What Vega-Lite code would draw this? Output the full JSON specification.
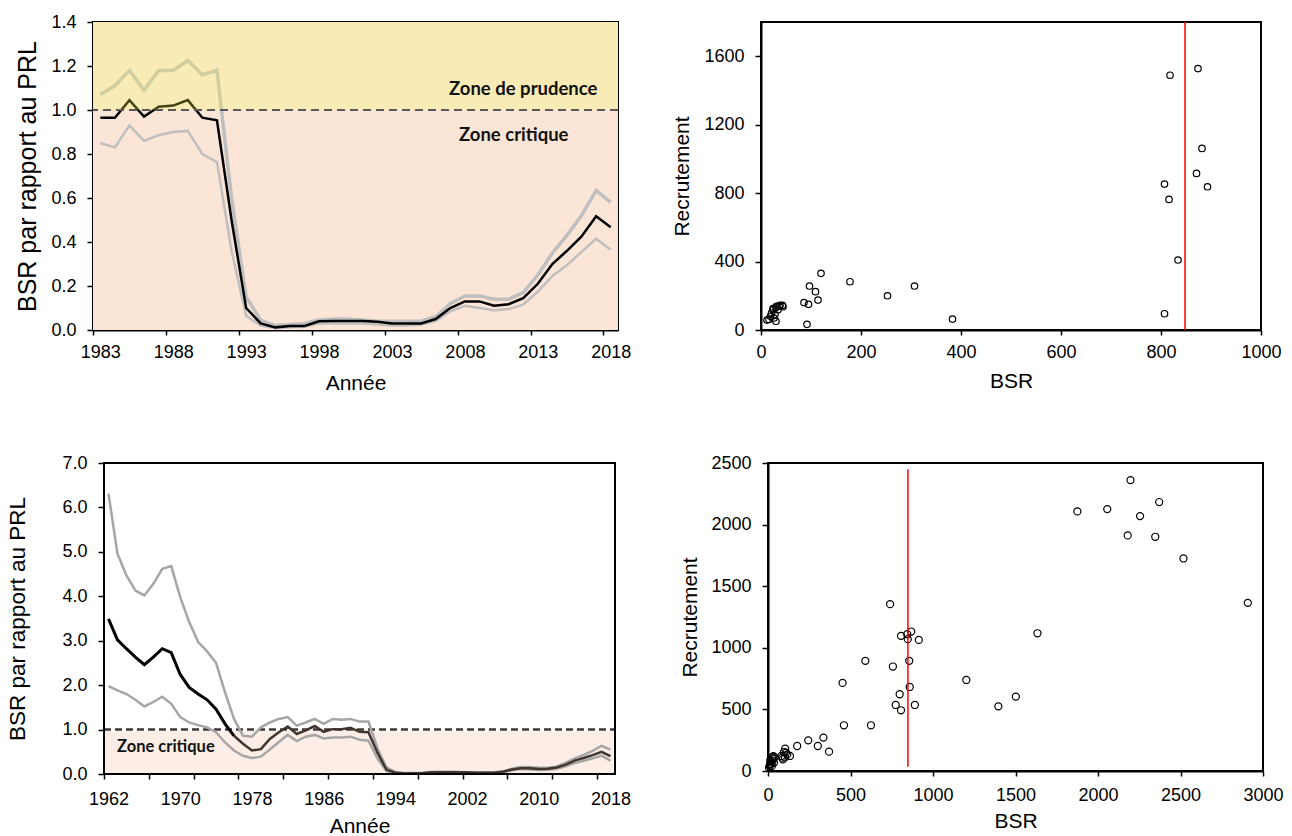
{
  "$schema": "https://vega.github.io/schema/vega-lite/v6.json",
  "background": "white",
  "padding": {"left": 6, "top": 12, "right": 0, "bottom": 0},
  "config": {
    "font": "Liberation Sans",
    "view": {"stroke": "black", "strokeWidth": 2},
    "axis": {
      "grid": false, "domainColor": "black", "domainWidth": 2, "tickColor": "black", "tickWidth": 1.5,
      "labelFontSize": 18, "labelColor": "black", "titleFontSize": 21, "titleFontWeight": "normal",
      "titleColor": "black", "labelFlush": false, "labelOverlap": false
    }
  },
  "datasets": {
    "zonesTL": [
      {"x1": 1982.5, "x2": 2018.5, "y1": 1.0, "y2": 1.4, "zone": "prudence"},
      {"x1": 1982.5, "x2": 2018.5, "y1": 0.0, "y2": 1.0, "zone": "critique"}
    ],
    "zonesBL": [
      {"x1": 1961.5, "x2": 2018.3, "y1": 0.0, "y2": 0.96, "zone": "critique"}
    ],
    "frameBL": [{"x1": 1961.5, "x2": 2018.5, "y1": 0, "y2": 7}],
    "ref": [{"ref": 1.0}],
    "refBL": [{"ref": 1.0, "x1": 1961.5, "x2": 2018.5}],
    "blim": [{"blim": 848}],
    "blimBR": [{"blim": 848, "r1": 35, "r2": 2450}],
    "textTL": [
      {"x": 2012.0, "y": 1.095, "label": "Zone de prudence"},
      {"x": 2011.35, "y": 0.885, "label": "Zone critique"}
    ],
    "textBL": [
      {"x": 1968.4, "y": 0.6, "label": "Zone critique"}
    ],
    "tl": [
      {"year": 1983, "haut": 1.07, "med": 0.965, "bas": 0.85},
      {"year": 1984, "haut": 1.11, "med": 0.965, "bas": 0.83},
      {"year": 1985, "haut": 1.18, "med": 1.045, "bas": 0.93},
      {"year": 1986, "haut": 1.09, "med": 0.97, "bas": 0.86},
      {"year": 1987, "haut": 1.18, "med": 1.015, "bas": 0.885},
      {"year": 1988, "haut": 1.18, "med": 1.02, "bas": 0.9},
      {"year": 1989, "haut": 1.225, "med": 1.045, "bas": 0.905},
      {"year": 1990, "haut": 1.16, "med": 0.965, "bas": 0.8},
      {"year": 1991, "haut": 1.18, "med": 0.953, "bas": 0.763},
      {"year": 1992, "haut": 0.6, "med": 0.5, "bas": 0.36},
      {"year": 1993, "haut": 0.15, "med": 0.1, "bas": 0.065},
      {"year": 1994, "haut": 0.045, "med": 0.03, "bas": 0.02},
      {"year": 1995, "haut": 0.02, "med": 0.012, "bas": 0.008},
      {"year": 1996, "haut": 0.025, "med": 0.018, "bas": 0.012},
      {"year": 1997, "haut": 0.03, "med": 0.018, "bas": 0.015},
      {"year": 1998, "haut": 0.045, "med": 0.04, "bas": 0.03},
      {"year": 1999, "haut": 0.05, "med": 0.041, "bas": 0.03},
      {"year": 2000, "haut": 0.05, "med": 0.041, "bas": 0.03},
      {"year": 2001, "haut": 0.045, "med": 0.041, "bas": 0.03},
      {"year": 2002, "haut": 0.04, "med": 0.038, "bas": 0.025},
      {"year": 2003, "haut": 0.04, "med": 0.03, "bas": 0.02},
      {"year": 2004, "haut": 0.04, "med": 0.03, "bas": 0.02},
      {"year": 2005, "haut": 0.04, "med": 0.03, "bas": 0.025},
      {"year": 2006, "haut": 0.06, "med": 0.05, "bas": 0.04},
      {"year": 2007, "haut": 0.12, "med": 0.1, "bas": 0.085},
      {"year": 2008, "haut": 0.155, "med": 0.13, "bas": 0.11},
      {"year": 2009, "haut": 0.155, "med": 0.13, "bas": 0.1},
      {"year": 2010, "haut": 0.14, "med": 0.11, "bas": 0.09},
      {"year": 2011, "haut": 0.14, "med": 0.117, "bas": 0.095},
      {"year": 2012, "haut": 0.17, "med": 0.145, "bas": 0.115},
      {"year": 2013, "haut": 0.25, "med": 0.21, "bas": 0.175},
      {"year": 2014, "haut": 0.35, "med": 0.3, "bas": 0.245},
      {"year": 2015, "haut": 0.43, "med": 0.36, "bas": 0.295},
      {"year": 2016, "haut": 0.52, "med": 0.425, "bas": 0.355},
      {"year": 2017, "haut": 0.635, "med": 0.517, "bas": 0.415},
      {"year": 2018, "haut": 0.58, "med": 0.467, "bas": 0.365}
    ],
    "bl": [
      {"year": 1962, "haut": 6.31, "med": 3.49, "bas": 1.98},
      {"year": 1963, "haut": 4.96, "med": 3.02, "bas": 1.88},
      {"year": 1964, "haut": 4.47, "med": 2.82, "bas": 1.8},
      {"year": 1965, "haut": 4.13, "med": 2.63, "bas": 1.67},
      {"year": 1966, "haut": 4.02, "med": 2.46, "bas": 1.52},
      {"year": 1967, "haut": 4.28, "med": 2.63, "bas": 1.62},
      {"year": 1968, "haut": 4.62, "med": 2.82, "bas": 1.74},
      {"year": 1969, "haut": 4.68, "med": 2.73, "bas": 1.58},
      {"year": 1970, "haut": 3.98, "med": 2.24, "bas": 1.28},
      {"year": 1971, "haut": 3.42, "med": 1.95, "bas": 1.16},
      {"year": 1972, "haut": 2.97, "med": 1.8, "bas": 1.1},
      {"year": 1973, "haut": 2.76, "med": 1.67, "bas": 1.05},
      {"year": 1974, "haut": 2.5, "med": 1.46, "bas": 0.94},
      {"year": 1975, "haut": 1.84, "med": 1.13, "bas": 0.71},
      {"year": 1976, "haut": 1.24, "med": 0.86, "bas": 0.53},
      {"year": 1977, "haut": 0.86, "med": 0.68, "bas": 0.41},
      {"year": 1978, "haut": 0.84, "med": 0.53, "bas": 0.36},
      {"year": 1979, "haut": 1.05, "med": 0.56, "bas": 0.39},
      {"year": 1980, "haut": 1.16, "med": 0.79, "bas": 0.55},
      {"year": 1981, "haut": 1.24, "med": 0.94, "bas": 0.72},
      {"year": 1982, "haut": 1.28, "med": 1.07, "bas": 0.88},
      {"year": 1983, "haut": 1.09, "med": 0.9, "bas": 0.74},
      {"year": 1984, "haut": 1.16, "med": 0.98, "bas": 0.84},
      {"year": 1985, "haut": 1.24, "med": 1.08, "bas": 0.88},
      {"year": 1986, "haut": 1.13, "med": 0.95, "bas": 0.8},
      {"year": 1987, "haut": 1.24, "med": 1.01, "bas": 0.82},
      {"year": 1988, "haut": 1.22, "med": 1.01, "bas": 0.82},
      {"year": 1989, "haut": 1.24, "med": 1.04, "bas": 0.84},
      {"year": 1990, "haut": 1.18, "med": 0.95, "bas": 0.77},
      {"year": 1991, "haut": 1.18, "med": 0.94, "bas": 0.75},
      {"year": 1992, "haut": 0.58, "med": 0.48, "bas": 0.35},
      {"year": 1993, "haut": 0.15, "med": 0.1, "bas": 0.065},
      {"year": 1994, "haut": 0.045, "med": 0.03, "bas": 0.02},
      {"year": 1995, "haut": 0.02, "med": 0.012, "bas": 0.008},
      {"year": 1996, "haut": 0.025, "med": 0.018, "bas": 0.012},
      {"year": 1997, "haut": 0.03, "med": 0.018, "bas": 0.015},
      {"year": 1998, "haut": 0.045, "med": 0.04, "bas": 0.03},
      {"year": 1999, "haut": 0.05, "med": 0.041, "bas": 0.03},
      {"year": 2000, "haut": 0.05, "med": 0.041, "bas": 0.03},
      {"year": 2001, "haut": 0.045, "med": 0.041, "bas": 0.03},
      {"year": 2002, "haut": 0.04, "med": 0.038, "bas": 0.025},
      {"year": 2003, "haut": 0.04, "med": 0.03, "bas": 0.02},
      {"year": 2004, "haut": 0.04, "med": 0.03, "bas": 0.02},
      {"year": 2005, "haut": 0.04, "med": 0.03, "bas": 0.025},
      {"year": 2006, "haut": 0.06, "med": 0.05, "bas": 0.04},
      {"year": 2007, "haut": 0.12, "med": 0.1, "bas": 0.085},
      {"year": 2008, "haut": 0.155, "med": 0.13, "bas": 0.11},
      {"year": 2009, "haut": 0.155, "med": 0.13, "bas": 0.1},
      {"year": 2010, "haut": 0.14, "med": 0.11, "bas": 0.09},
      {"year": 2011, "haut": 0.14, "med": 0.117, "bas": 0.095},
      {"year": 2012, "haut": 0.17, "med": 0.145, "bas": 0.115},
      {"year": 2013, "haut": 0.25, "med": 0.21, "bas": 0.175},
      {"year": 2014, "haut": 0.35, "med": 0.3, "bas": 0.245},
      {"year": 2015, "haut": 0.43, "med": 0.36, "bas": 0.295},
      {"year": 2016, "haut": 0.52, "med": 0.425, "bas": 0.355},
      {"year": 2017, "haut": 0.635, "med": 0.5, "bas": 0.415},
      {"year": 2018, "haut": 0.55, "med": 0.4, "bas": 0.3}
    ],
    "tr": [
      {"bsr": 818, "rec": 1489}, {"bsr": 874, "rec": 1528}, {"bsr": 882, "rec": 1061}, {"bsr": 871, "rec": 915},
      {"bsr": 893, "rec": 837}, {"bsr": 807, "rec": 853}, {"bsr": 816, "rec": 763}, {"bsr": 834, "rec": 409},
      {"bsr": 807, "rec": 95}, {"bsr": 383, "rec": 64}, {"bsr": 307, "rec": 257}, {"bsr": 253, "rec": 200},
      {"bsr": 178, "rec": 282}, {"bsr": 120, "rec": 331}, {"bsr": 97, "rec": 257}, {"bsr": 109, "rec": 224},
      {"bsr": 114, "rec": 175}, {"bsr": 86, "rec": 160}, {"bsr": 95, "rec": 150}, {"bsr": 92, "rec": 33},
      {"bsr": 12, "rec": 58}, {"bsr": 16, "rec": 62}, {"bsr": 19, "rec": 80}, {"bsr": 21, "rec": 99},
      {"bsr": 24, "rec": 118}, {"bsr": 24, "rec": 125}, {"bsr": 26, "rec": 70}, {"bsr": 28, "rec": 90},
      {"bsr": 30, "rec": 51}, {"bsr": 30, "rec": 132}, {"bsr": 31, "rec": 139}, {"bsr": 34, "rec": 119},
      {"bsr": 36, "rec": 140}, {"bsr": 38, "rec": 144}, {"bsr": 43, "rec": 144}, {"bsr": 44, "rec": 136}
    ],
    "br": [
      {"bsr": 2197, "rec": 2361}, {"bsr": 2371, "rec": 2183}, {"bsr": 1875, "rec": 2107}, {"bsr": 2056, "rec": 2126},
      {"bsr": 2255, "rec": 2069}, {"bsr": 2180, "rec": 1912}, {"bsr": 2347, "rec": 1901}, {"bsr": 2518, "rec": 1725},
      {"bsr": 2908, "rec": 1365}, {"bsr": 1633, "rec": 1118}, {"bsr": 740, "rec": 1354}, {"bsr": 806, "rec": 1097},
      {"bsr": 844, "rec": 1110}, {"bsr": 868, "rec": 1132}, {"bsr": 847, "rec": 1070}, {"bsr": 914, "rec": 1064},
      {"bsr": 590, "rec": 894}, {"bsr": 856, "rec": 894}, {"bsr": 757, "rec": 848}, {"bsr": 452, "rec": 715},
      {"bsr": 1202, "rec": 739}, {"bsr": 859, "rec": 682}, {"bsr": 798, "rec": 623}, {"bsr": 774, "rec": 536},
      {"bsr": 890, "rec": 536}, {"bsr": 806, "rec": 493}, {"bsr": 1396, "rec": 525}, {"bsr": 1502, "rec": 604},
      {"bsr": 460, "rec": 371}, {"bsr": 624, "rec": 371}, {"bsr": 336, "rec": 271}, {"bsr": 244, "rec": 249},
      {"bsr": 302, "rec": 203}, {"bsr": 177, "rec": 203}, {"bsr": 370, "rec": 157}, {"bsr": 104, "rec": 181},
      {"bsr": 6, "rec": 27}, {"bsr": 10, "rec": 40}, {"bsr": 12, "rec": 55}, {"bsr": 14, "rec": 87},
      {"bsr": 16, "rec": 54}, {"bsr": 20, "rec": 70}, {"bsr": 24, "rec": 41}, {"bsr": 27, "rec": 114},
      {"bsr": 30, "rec": 100}, {"bsr": 33, "rec": 120}, {"bsr": 36, "rec": 67}, {"bsr": 40, "rec": 110},
      {"bsr": 81, "rec": 122}, {"bsr": 85, "rec": 108}, {"bsr": 97, "rec": 154}, {"bsr": 103, "rec": 110},
      {"bsr": 109, "rec": 149}, {"bsr": 117, "rec": 135}, {"bsr": 133, "rec": 122}, {"bsr": 90, "rec": 95},
      {"bsr": 28, "rec": 85}
    ]
  },
  "spacing": 59,
  "resolve": {"scale": {"color": "independent"}},
  "vconcat": [
    {
      "bounds": "flush",
      "spacing": 143,
      "resolve": {"scale": {"color": "independent"}},
      "hconcat": [
        {
          "width": 525,
          "height": 308,
          "layer": [
            {
              "data": {"name": "zonesTL"},
              "mark": {"type": "rect"},
              "encoding": {
                "x": {"field": "x1", "type": "quantitative", "title": "Année",
                  "scale": {"domain": [1982.5, 2018.5], "nice": false, "zero": false},
                  "axis": {
                    "values": [1982.5, 1985, 1987.5, 1990, 1992.5, 1995, 1997.5, 2000, 2002.5, 2005, 2007.5, 2010, 2012.5, 2015, 2017.5],
                    "labelExpr": "(datum.value - 1982.5) % 5 == 0 ? toString(datum.value + 0.5) : ''",
                    "labelOffset": 7.3,
                    "labelOverlap": false, "labelFlush": false,
                    "tickSize": 5, "labelPadding": 8, "titleY": 53, "titleBaseline": "middle"
                  }},
                "x2": {"field": "x2"},
                "y": {"field": "y1", "type": "quantitative", "title": "BSR par rapport au PRL",
                  "scale": {"domain": [0, 1.4], "nice": false},
                  "axis": {"values": [0, 0.2, 0.4, 0.6, 0.8, 1.0, 1.2, 1.4], "format": ".1f", "labelOverlap": false, "tickSize": 6, "labelPadding": 11, "titleX": -66, "titleBaseline": "middle", "titleFontSize": 25}},
                "y2": {"field": "y2"},
                "color": {"field": "zone", "type": "nominal", "legend": null,
                  "scale": {"domain": ["prudence", "critique"], "range": ["#F7E8DD", "#FBE5D6"]}}
              }
            },
            {
              "data": {"name": "tl"},
              "mark": {"type": "line", "color": "#BFBFBF", "strokeWidth": 3.5},
              "encoding": {"x": {"field": "year", "type": "quantitative"}, "y": {"field": "haut", "type": "quantitative"}}
            },
            {
              "data": {"name": "tl"},
              "mark": {"type": "line", "color": "#BFBFBF", "strokeWidth": 2.5},
              "encoding": {"x": {"field": "year", "type": "quantitative"}, "y": {"field": "bas", "type": "quantitative"}}
            },
            {
              "data": {"name": "tl"},
              "mark": {"type": "line", "color": "black", "strokeWidth": 2.5},
              "encoding": {"x": {"field": "year", "type": "quantitative"}, "y": {"field": "med", "type": "quantitative"}}
            },
            {
              "data": {"name": "zonesTL"},
              "transform": [{"filter": "datum.zone == 'prudence'"}],
              "mark": {"type": "rect", "color": "#FFF34B", "opacity": 0.27},
              "encoding": {"x": {"field": "x1", "type": "quantitative"}, "x2": {"field": "x2"}, "y": {"field": "y1", "type": "quantitative"}, "y2": {"field": "y2"}}
            },
            {
              "data": {"name": "ref"},
              "mark": {"type": "rule", "color": "#595959", "strokeWidth": 2, "strokeDash": [8, 5]},
              "encoding": {"y": {"field": "ref", "type": "quantitative"}}
            },
            {
              "data": {"name": "textTL"},
              "mark": {"type": "text", "font": "Lato", "fontWeight": "bold", "fontSize": 18.5, "align": "center", "baseline": "middle", "color": "#111111"},
              "encoding": {"x": {"field": "x", "type": "quantitative"}, "y": {"field": "y", "type": "quantitative"}, "text": {"field": "label"}}
            }
          ]
        },
        {
          "width": 500,
          "height": 308,
          "layer": [
            {
              "data": {"name": "tr"},
              "mark": {"type": "point", "shape": "circle", "filled": false, "stroke": "black", "strokeWidth": 1.2, "size": 42, "opacity": 1},
              "encoding": {
                "x": {"field": "bsr", "type": "quantitative", "title": "BSR",
                  "scale": {"domain": [0, 1000], "nice": false},
                  "axis": {"values": [0, 200, 400, 600, 800, 1000], "format": "d", "labelOverlap": false, "tickSize": 5, "labelPadding": 8, "titleY": 51, "titleBaseline": "middle"}},
                "y": {"field": "rec", "type": "quantitative", "title": "Recrutement",
                  "scale": {"domain": [0, 1800], "nice": false},
                  "axis": {"values": [0, 400, 800, 1200, 1600], "format": "d", "labelOverlap": false, "tickSize": 6, "labelPadding": 11, "titleX": -79, "titleBaseline": "middle"}}
              }
            },
            {
              "data": {"name": "blim"},
              "mark": {"type": "rule", "color": "#FF0000", "strokeWidth": 1.5},
              "encoding": {"x": {"field": "blim", "type": "quantitative"}}
            }
          ]
        }
      ]
    },
    {
      "bounds": "flush",
      "spacing": 153,
      "resolve": {"scale": {"color": "independent"}},
      "hconcat": [
        {
          "width": 522,
          "height": 311,
          "view": {"stroke": null},
          "resolve": {"scale": {"x": "independent"}, "axis": {"x": "independent"}},
          "layer": [
            {
              "layer": [
                {
                  "data": {"name": "zonesBL"},
                  "mark": {"type": "rect"},
                  "encoding": {
                    "x": {"field": "x1", "type": "quantitative", "title": "Année",
                      "scale": {"domain": [1960.272, 2018.5], "nice": false, "zero": false},
                      "axis": {
                        "orient": "bottom",
                        "values": [1962, 1970, 1978, 1986, 1994, 2002, 2010, 2018],
                        "format": "d",
                        "domain": false,
                        "tickOpacity": 0,
                        "labelOverlap": false, "labelFlush": false,
                        "tickSize": 5, "labelPadding": 11, "titleX": 266.5, "titleY": 52, "titleBaseline": "middle"
                      }},
                    "x2": {"field": "x2"},
                    "y": {"field": "y1", "type": "quantitative", "title": "BSR par rapport au PRL",
                      "scale": {"domain": [0, 7], "nice": false},
                      "axis": {"values": [0, 1, 2, 3, 4, 5, 6, 7], "format": ".1f", "offset": -11, "domain": false, "labelOverlap": false, "tickSize": 6, "labelPadding": 11, "titleX": -87, "titleBaseline": "middle", "titleFontSize": 22.5}},
                    "y2": {"field": "y2"},
                    "color": {"field": "zone", "type": "nominal", "legend": null,
                      "scale": {"domain": ["critique"], "range": ["#FCEEE6"]}}
                  }
                },
                {
                  "data": {"name": "refBL"},
                  "mark": {"type": "rule", "color": "#3F3834", "strokeWidth": 2.5, "strokeDash": [7, 4]},
                  "encoding": {"x": {"field": "x1", "type": "quantitative"}, "x2": {"field": "x2"}, "y": {"field": "ref", "type": "quantitative"}}
                },
                {
                  "data": {"name": "bl"},
                  "mark": {"type": "line", "color": "#A6A6A6", "strokeWidth": 2.5},
                  "encoding": {"x": {"field": "year", "type": "quantitative"}, "y": {"field": "haut", "type": "quantitative"}}
                },
                {
                  "data": {"name": "bl"},
                  "mark": {"type": "line", "color": "#A6A6A6", "strokeWidth": 2.5},
                  "encoding": {"x": {"field": "year", "type": "quantitative"}, "y": {"field": "bas", "type": "quantitative"}}
                },
                {
                  "data": {"name": "bl"},
                  "transform": [{"filter": "datum.year >= 1976"}],
                  "mark": {"type": "line", "color": "#40352F", "strokeWidth": 2.5},
                  "encoding": {"x": {"field": "year", "type": "quantitative"}, "y": {"field": "med", "type": "quantitative"}}
                },
                {
                  "data": {"name": "bl"},
                  "transform": [{"filter": "datum.year <= 1976"}],
                  "mark": {"type": "line", "color": "black", "strokeWidth": 3},
                  "encoding": {"x": {"field": "year", "type": "quantitative"}, "y": {"field": "med", "type": "quantitative"}}
                },
                {
                  "data": {"name": "textBL"},
                  "mark": {"type": "text", "font": "Lato", "fontWeight": "bold", "fontSize": 16.5, "align": "center", "baseline": "middle", "color": "#111111"},
                  "encoding": {"x": {"field": "x", "type": "quantitative"}, "y": {"field": "y", "type": "quantitative"}, "text": {"field": "label"}}
                },
                {
                  "data": {"name": "frameBL"},
                  "mark": {"type": "rect", "fill": null, "fillOpacity": 0, "stroke": "black", "strokeWidth": 2},
                  "encoding": {"x": {"field": "x1", "type": "quantitative"}, "x2": {"field": "x2"}, "y": {"field": "y1", "type": "quantitative"}, "y2": {"field": "y2"}}
                }
              ]
            },
            {
              "data": {"name": "frameBL"},
              "mark": {"type": "rule", "opacity": 0},
              "encoding": {
                "x": {"field": "x1", "type": "quantitative",
                  "scale": {"domain": [1960.272, 2018.5], "nice": false, "zero": false},
                  "axis": {
                    "orient": "bottom",
                    "values": [1961.5, 1966.5, 1971.5, 1976.5, 1981.5, 1986.5, 1991.5, 1996.5, 2001.5, 2006.5, 2011.5, 2016.5],
                    "labels": false, "domain": false, "title": null, "tickSize": 5
                  }}
              }
            }
          ]
        },
        {
          "width": 495,
          "height": 308,
          "layer": [
            {
              "data": {"name": "br"},
              "mark": {"type": "point", "shape": "circle", "filled": false, "stroke": "black", "strokeWidth": 1.2, "size": 50, "opacity": 1},
              "encoding": {
                "x": {"field": "bsr", "type": "quantitative", "title": "BSR",
                  "scale": {"domain": [0, 3000], "nice": false},
                  "axis": {"values": [0, 500, 1000, 1500, 2000, 2500, 3000], "format": "d", "labelOverlap": false, "tickSize": 5, "labelPadding": 10, "titleY": 50, "titleBaseline": "middle"}},
                "y": {"field": "rec", "type": "quantitative", "title": "Recrutement",
                  "scale": {"domain": [0, 2500], "nice": false},
                  "axis": {"values": [0, 500, 1000, 1500, 2000, 2500], "format": "d", "labelOverlap": false, "tickSize": 6, "labelPadding": 11, "titleX": -78, "titleBaseline": "middle"}}
              }
            },
            {
              "data": {"name": "blimBR"},
              "mark": {"type": "rule", "color": "#FF0000", "strokeWidth": 1.5},
              "encoding": {"x": {"field": "blim", "type": "quantitative"}, "y": {"field": "r1", "type": "quantitative"}, "y2": {"field": "r2"}}
            }
          ]
        }
      ]
    }
  ]
}
